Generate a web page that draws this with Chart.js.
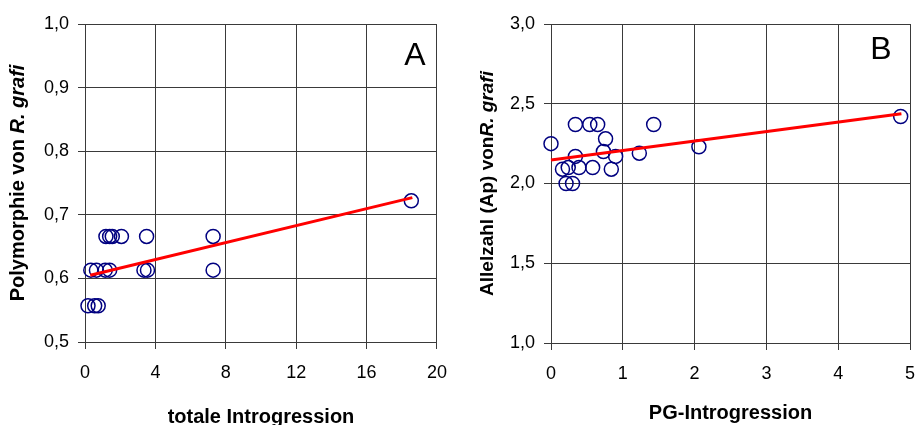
<!DOCTYPE html>
<html lang="de">
<head>
    <meta charset="UTF-8">
    <title>Introgression</title>
    <script src="https://cdn.jsdelivr.net/npm/chart.js"></script>
    <style>
        html, body {
            margin: 0;
            padding: 0;
            background: #fff;
            overflow: hidden;
            width: 916px;
            height: 425px;
        }

        .box {
            position: absolute;
            top: 0;
            height: 425px;
        }

        #box-a { left: 0; width: 460px; }
        #box-b { left: 460px; width: 470px; }
    </style>
</head>
<body>

    <div class="box" id="box-a"><canvas id="chart-a"></canvas></div>
    <div class="box" id="box-b"><canvas id="chart-b"></canvas></div>

    <script>
        // Panel A: totale Introgression vs. Polymorphie
        const xA = [1.19, 1.40, 1.55, 2.07, 3.50, 7.28,
                    0.33, 0.65, 1.15, 1.40, 3.35, 3.55, 7.28,
                    0.17, 0.55, 0.75, 18.54];
        const yA = [0.666, 0.666, 0.666, 0.666, 0.666, 0.666,
                    0.613, 0.613, 0.613, 0.613, 0.613, 0.613, 0.613,
                    0.557, 0.557, 0.557, 0.722];
        const trendAx = [0.3, 18.6];
        const trendAy = [0.605, 0.727];
        const xTicksA = [0, 4, 8, 12, 16, 20];
        const yTicksA = [0.5, 0.6, 0.7, 0.8, 0.9, 1.0];

        // Panel B: PG-Introgression vs. Allelzahl
        const xB = [0, 0.34, 0.54, 0.65, 1.43, 0.76, 0.73, 0.34, 0.90, 1.23,
                    2.06, 4.87, 0.16, 0.24, 0.39, 0.58, 0.84, 0.21, 0.30];
        const yB = [2.25, 2.37, 2.37, 2.37, 2.37, 2.28, 2.20, 2.17, 2.17, 2.19,
                    2.23, 2.42, 2.09, 2.10, 2.10, 2.10, 2.09, 2.00, 2.00];
        const trendBx = [0, 4.88];
        const trendBy = [2.148, 2.438];
        const xTicksB = [0, 1, 2, 3, 4, 5];
        const yTicksB = [1.0, 1.5, 2.0, 2.5, 3.0];

        const FONT = "'Liberation Sans', Arial, sans-serif";
        const GRID = '#3a3a3a';

        const toPts = (xs, ys) => xs.map((x, i) => ({x: x, y: ys[i]}));
        const comma = v => v.toFixed(1).replace('.', ',');

        // y title with an italic part, plus the panel letter
        const labelsPlugin = {
            id: 'labels',
            afterDraw(chart, args, o) {
                const ctx = chart.ctx;
                const area = chart.chartArea;
                ctx.save();
                ctx.fillStyle = '#000';
                ctx.textBaseline = 'middle';
                const fPlain = 'bold ' + o.size + 'px ' + FONT;
                const fItal = 'italic bold ' + o.size + 'px ' + FONT;
                ctx.font = fPlain;
                const w1 = ctx.measureText(o.plain).width;
                ctx.font = fItal;
                const w2 = ctx.measureText(o.italic).width;
                ctx.translate(o.titleX, (area.top + area.bottom) / 2);
                ctx.rotate(-Math.PI / 2);
                ctx.textAlign = 'left';
                ctx.font = fPlain;
                ctx.fillText(o.plain, -(w1 + w2) / 2, 0);
                ctx.font = fItal;
                ctx.fillText(o.italic, -(w1 + w2) / 2 + w1, 0);
                ctx.restore();

                ctx.save();
                ctx.font = '32px ' + FONT;
                ctx.fillStyle = '#000';
                ctx.textAlign = 'center';
                ctx.textBaseline = 'alphabetic';
                ctx.fillText(o.letter, o.letterX, o.letterY);
                ctx.restore();
            }
        };

        function makeChart(id, cfg) {
            const axis = (min, max, ticks, fmt) => ({
                type: 'linear',
                min: min,
                max: max,
                afterBuildTicks: s => { s.ticks = ticks.map(v => ({value: v})); },
                ticks: {
                    color: '#000',
                    font: {family: FONT, size: 18},
                    callback: fmt
                },
                grid: {color: GRID, lineWidth: 1, tickLength: 7, tickColor: GRID},
                border: {color: GRID}
            });

            const x = axis(cfg.xMin, cfg.xMax, cfg.xTicks, v => String(v));
            x.ticks.padding = 13;
            x.ticks.maxRotation = 0;
            x.title = {
                display: true,
                text: cfg.xTitle,
                color: '#000',
                font: {family: FONT, size: 20, weight: 'bold'},
                padding: {top: 0, bottom: cfg.titlePad}
            };
            x.afterFit = s => { s.height = cfg.xHeight; };

            const y = axis(cfg.yMin, cfg.yMax, cfg.yTicks, v => comma(v));
            y.ticks.padding = 9;
            y.afterFit = s => { s.width = cfg.yWidth; };

            return new Chart(document.getElementById(id), {
                type: 'scatter',
                data: {
                    datasets: [{
                        type: 'line',
                        data: toPts(cfg.tx, cfg.ty),
                        borderColor: '#ff0000',
                        borderWidth: 3,
                        pointRadius: 0,
                        fill: false,
                        clip: false,
                        order: 0
                    }, {
                        data: toPts(cfg.xs, cfg.ys),
                        pointStyle: 'circle',
                        pointRadius: 7,
                        pointBorderWidth: 1.5,
                        borderColor: '#000080',
                        backgroundColor: 'rgba(0,0,0,0)',
                        clip: false,
                        order: 1
                    }]
                },
                options: {
                    responsive: true,
                    maintainAspectRatio: false,
                    animation: false,
                    layout: {padding: {top: 24, right: cfg.padRight, bottom: 0, left: 0}},
                    plugins: {
                        legend: {display: false},
                        tooltip: {enabled: false},
                        labels: cfg.labels
                    },
                    scales: {x: x, y: y}
                },
                plugins: [labelsPlugin]
            });
        }

        makeChart('chart-a', {
            xs: xA, ys: yA, tx: trendAx, ty: trendAy,
            xMin: 0, xMax: 20, xTicks: xTicksA,
            yMin: 0.5, yMax: 1.0, yTicks: yTicksA,
            xTitle: 'totale Introgression', titlePad: -4,
            yWidth: 85, xHeight: 83, padRight: 23,
            labels: {plain: 'Polymorphie von ', italic: 'R. grafi', size: 20,
                     titleX: 18, letter: 'A', letterX: 415, letterY: 65}
        });

        makeChart('chart-b', {
            xs: xB, ys: yB, tx: trendBx, ty: trendBy,
            xMin: 0, xMax: 5, xTicks: xTicksB,
            yMin: 1.0, yMax: 3.0, yTicks: yTicksB,
            xTitle: 'PG-Introgression', titlePad: 0,
            yWidth: 91, xHeight: 82, padRight: 20,
            labels: {plain: 'Allelzahl (Ap) von', italic: 'R. grafi', size: 19,
                     titleX: 28, letter: 'B', letterX: 421, letterY: 59}
        });
    </script>
</body>
</html>
